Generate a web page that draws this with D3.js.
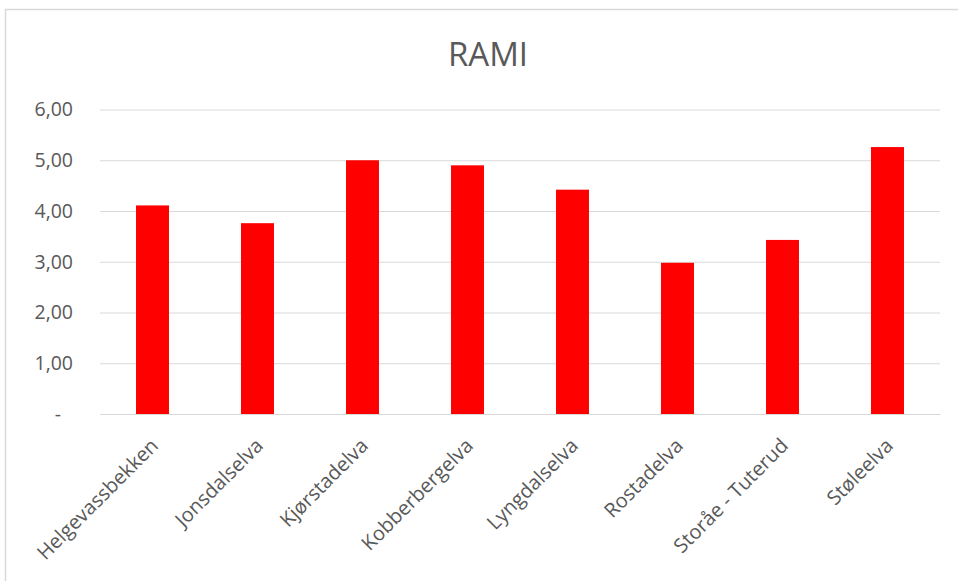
<!DOCTYPE html>
<html>
<head>
<meta charset="utf-8">
<script src="https://cdn.jsdelivr.net/npm/d3@7"></script>
<style>
  body { margin: 0; background: #fff; }
  svg { display: block; font-family: "Open Sans", sans-serif; }
</style>
</head>
<body>
<svg id="chart" width="958" height="581"></svg>
<script>
// data
var rivers = ["Helgevassbekken", "Jonsdalselva", "Kjørstadelva", "Kobberbergelva",
              "Lyngdalselva", "Rostadelva", "Storåe - Tuterud", "Støleelva"];
var rami = [4.11, 3.76, 5.00, 4.90, 4.42, 2.98, 3.43, 5.26];
var yTicks = [0, 1, 2, 3, 4, 5, 6];

var W = 958, H = 581,
    margin = {top: 109.5, right: 18, bottom: 167, left: 100},
    innerW = W - margin.left - margin.right,
    innerH = H - margin.top - margin.bottom;

var svg = d3.select("#chart");

// chart frame (only top/left visible in the picture)
svg.append("rect")
  .attr("x", 5.5).attr("y", 9.5)
  .attr("width", 1000).attr("height", 1000)
  .attr("fill", "none")
  .attr("stroke", "#d9d9d9")
  .attr("stroke-width", 1.5);

svg.append("text")
  .attr("x", 488).attr("y", 66)
  .attr("text-anchor", "middle")
  .attr("font-size", "33px")
  .attr("fill", "#595959")
  .text("RAMI");

var g = svg.append("g").attr("transform", "translate(" + margin.left + "," + margin.top + ")");

var x = d3.scaleBand()
  .domain(rivers)
  .range([0, innerW])
  .paddingInner(0.686)
  .paddingOuter(0.343);

var y = d3.scaleLinear().domain([0, 6]).range([innerH, 0]);

var fmt = function (d) { return d === 0 ? "-" : d3.format(".2f")(d).replace(".", ","); };

// grid + y labels
var yAxis = g.append("g")
  .call(d3.axisLeft(y).tickValues(yTicks).tickSize(-innerW).tickFormat(fmt).tickPadding(27));
yAxis.select(".domain").remove();
yAxis.selectAll(".tick line").attr("stroke", "#d9d9d9").attr("stroke-width", 1.2);
yAxis.selectAll(".tick text")
  .attr("fill", "#595959")
  .attr("font-size", "19.5px")
  .attr("font-family", "Open Sans, sans-serif")
  .attr("dx", function (d) { return d === 0 ? "-12px" : 0; });

// bars
g.selectAll("rect.bar")
  .data(rami)
  .enter()
  .append("rect")
  .attr("class", "bar")
  .attr("x", function (d, i) { return x(rivers[i]); })
  .attr("y", function (d) { return y(d); })
  .attr("width", x.bandwidth())
  .attr("height", function (d) { return innerH - y(d); })
  .attr("fill", "#ff0000");

// x labels, rotated
var xAxis = g.append("g")
  .attr("transform", "translate(0," + innerH + ")")
  .call(d3.axisBottom(x).tickSize(0).tickPadding(0));
xAxis.select(".domain").attr("stroke", "#d9d9d9").attr("stroke-width", 1.2);
xAxis.selectAll(".tick text")
  .attr("fill", "#595959")
  .attr("font-size", "20px")
  .attr("font-family", "Open Sans, sans-serif")
  .attr("text-anchor", "end")
  .attr("transform", "translate(2,28) rotate(-45)")
  .attr("dy", "0.35em")
  .attr("y", 0);
</script>
</body>
</html>
